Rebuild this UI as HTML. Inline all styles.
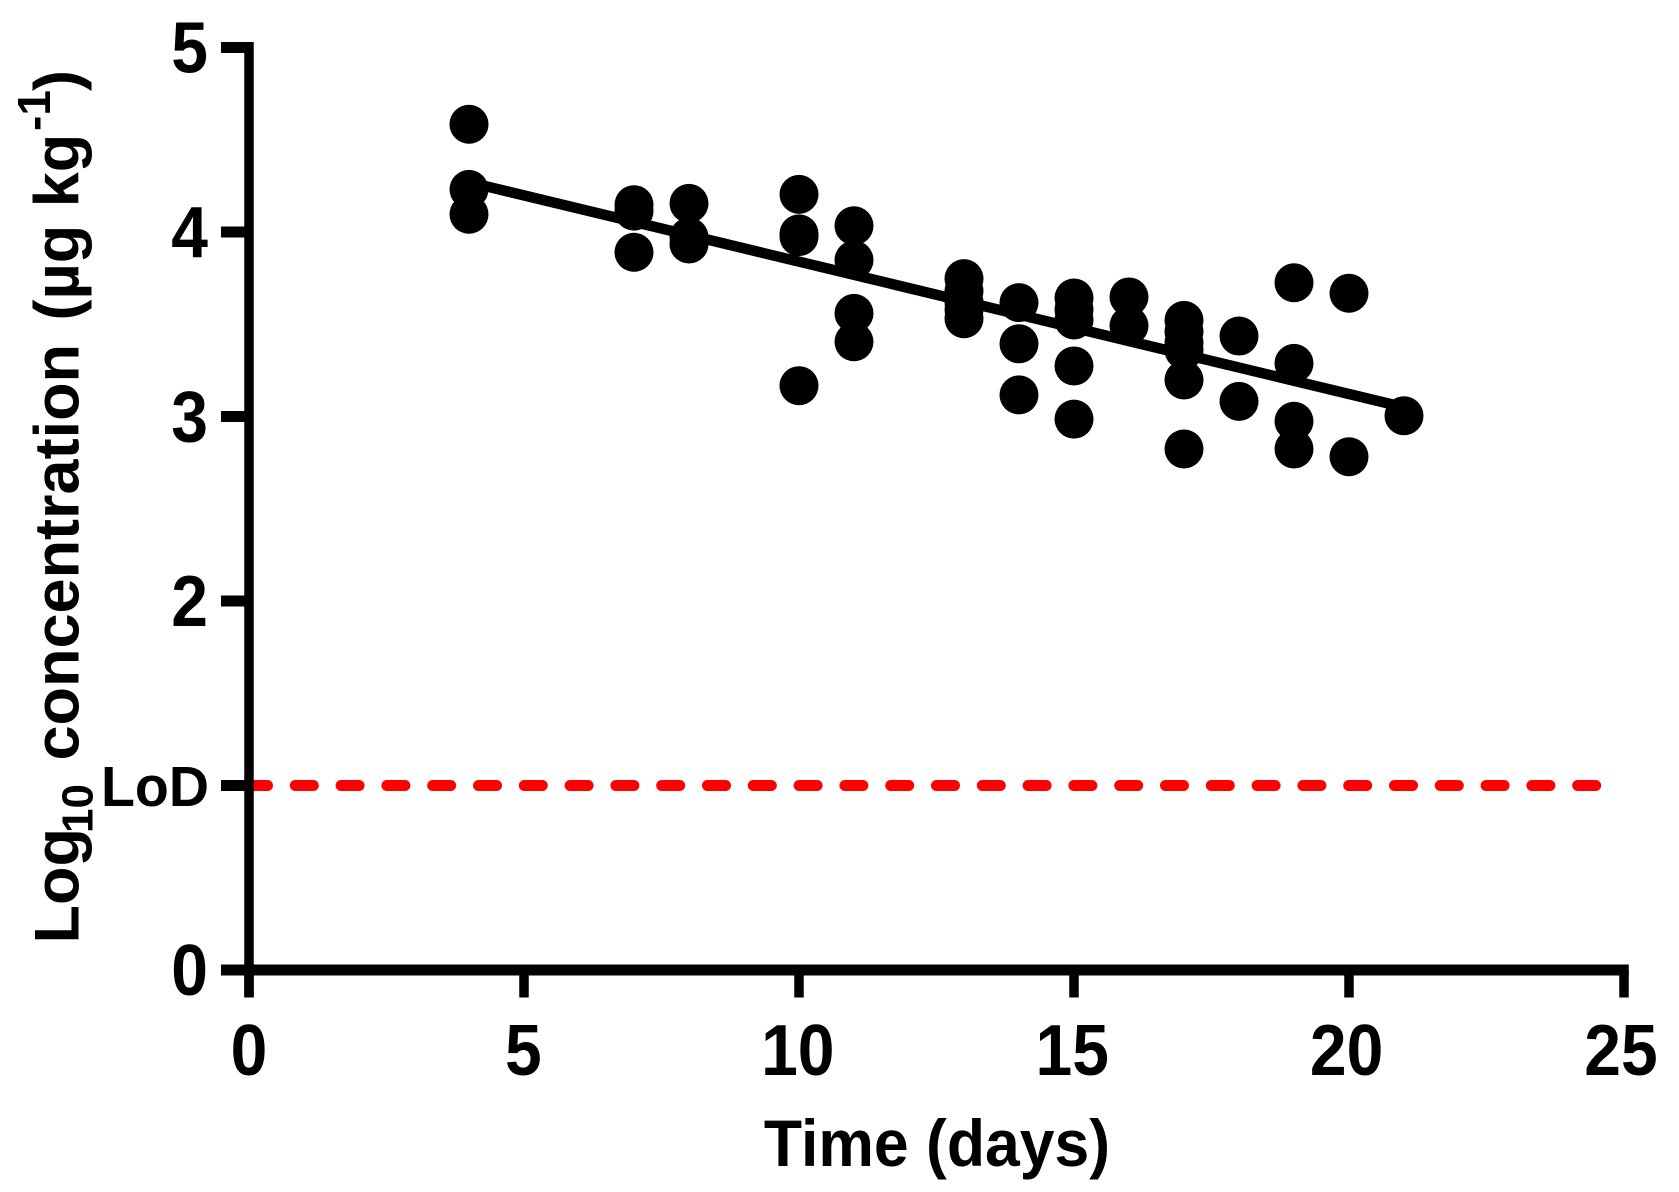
<!DOCTYPE html>
<html lang="en">
<head>
<meta charset="utf-8">
<title>Log10 concentration over time</title>
<style>
  html, body { margin: 0; padding: 0; background: #fff; }
  #chart { display: block; width: 1679px; height: 1192px; }
  text { font-family: "Liberation Sans", Arial, sans-serif; font-weight: 700; fill: #000; }
</style>
</head>
<body>
<svg id="chart" xmlns="http://www.w3.org/2000/svg" width="1679" height="1192" viewBox="0 0 1679 1192">
  <rect x="0" y="0" width="1679" height="1192" fill="#fff"/>
  <g id="lod-layer"></g>
  <g id="axes-layer"></g>
  <g id="points-layer"></g>
  <g id="fit-layer"></g>
  <text transform="translate(937 1166) scale(1 1.05)" font-size="62.5" text-anchor="middle">Time (days)</text>
  <text transform="translate(78.5 943.5) rotate(-90)" font-size="63"><tspan x="0" y="0">Log</tspan><tspan font-size="44" x="110.5" y="14">10</tspan><tspan x="183" y="0">concentration</tspan><tspan x="623" y="0">(µg kg</tspan><tspan font-size="46" x="812.5" y="-28.5">-1</tspan><tspan x="852.5" y="0">)</tspan></text>
</svg>
<script>
const xTicks = [0, 5, 10, 15, 20, 25];
const xTickLabels = ["0", "5", "10", "15", "20", "25"];
const yTicks = [0, 1, 2, 3, 4, 5];
const yTickLabels = ["0", "LoD", "2", "3", "4", "5"];
const days = [
  4, 4, 4,
  7, 7, 7,
  8, 8, 8,
  10, 10, 10, 10,
  11, 11, 11, 11,
  13, 13, 13, 13, 13,
  14, 14, 14,
  15, 15, 15, 15, 15,
  16, 16,
  17, 17, 17, 17, 17, 17,
  18, 18,
  19, 19, 19, 19,
  20, 20,
  21
];
const concentrations = [
  4.584, 4.231, 4.096,
  4.148, 4.113, 3.89,
  4.155, 3.973, 3.935,
  4.204, 3.99, 3.975, 3.167,
  4.034, 3.848, 3.559, 3.405,
  3.747, 3.68, 3.62, 3.58, 3.53,
  3.617, 3.394, 3.117,
  3.642, 3.58, 3.523, 3.274, 2.986,
  3.648, 3.492,
  3.521, 3.46, 3.40, 3.36, 3.198, 2.824,
  3.436, 3.082,
  3.725, 3.288, 2.974, 2.824,
  3.668, 2.782,
  3.004
];
const fitDays = [4, 21];
const fitValues = [4.27, 3.05];
const lodDays = [0, 24.5];
const lodValue = 1;

const SVG_NS = "http://www.w3.org/2000/svg";
const xScale = function (v) { return 249 + 55 * v; };
const yScale = function (v) { return 970 - 184.5 * v; };

function make(tag, parent, attrs, text) {
  const el = document.createElementNS(SVG_NS, tag);
  Object.keys(attrs).forEach(function (k) { el.setAttribute(k, attrs[k]); });
  if (text !== undefined) el.textContent = text;
  parent.appendChild(el);
  return el;
}

const axes = document.getElementById("axes-layer");
const V_W = 9.5;
const H_W = 11;

const yAxisLine = make("line", axes, { x1: xScale(0), x2: xScale(0), y1: yScale(5) - H_W / 2, y2: 997.5, stroke: "#000", "stroke-width": V_W });



const xAxisLine = make("line", axes, { x1: 221, x2: xScale(25) + V_W / 2, y1: yScale(0), y2: yScale(0), stroke: "#000", "stroke-width": H_W });



xTicks.forEach(function (t, i) {
  const tick = make("line", axes, { x1: xScale(t), x2: xScale(t), y1: yScale(0), y2: 997.5, stroke: "#000", "stroke-width": V_W });
  
  
  const label = make("text", axes, { transform: "translate(" + (xScale(t) - t * 0.12) + " 1075) scale(1 1.09)", "font-size": 66, "text-anchor": "middle" }, xTickLabels[i]);
  
  
});

yTicks.forEach(function (t, i) {
  const tick = make("line", axes, { x1: 221, x2: xScale(0), y1: yScale(t), y2: yScale(t), stroke: "#000", "stroke-width": H_W });
  
  
  const isLod = yTickLabels[i] === "LoD";
  const attrs = isLod
    ? { x: 209, y: yScale(t) + 20.5, "font-size": 57, "text-anchor": "end", textLength: 108, lengthAdjust: "spacingAndGlyphs" }
    : { transform: "translate(208 " + (yScale(t) + 25) + ") scale(1 1.09)", "font-size": 66, "text-anchor": "end" };
  const label = make("text", axes, attrs, yTickLabels[i]);
  
  
});

const lodLine = make("line", document.getElementById("lod-layer"), {
  x1: xScale(lodDays[0]) + 0.5, x2: xScale(lodDays[1]),
  y1: yScale(lodValue), y2: yScale(lodValue),
  stroke: "#ff0000", "stroke-width": 11, "stroke-linecap": "round", "stroke-dasharray": "18 27.8"
});



const pointsLayer = document.getElementById("points-layer");
days.forEach(function (d, i) {
  const dot = make("circle", pointsLayer, { cx: xScale(d), cy: yScale(concentrations[i]), r: 19.5, fill: "#000" });
  
  
});

const fitLine = make("line", document.getElementById("fit-layer"), {
  x1: xScale(fitDays[0]), x2: xScale(fitDays[1]),
  y1: yScale(fitValues[0]), y2: yScale(fitValues[1]),
  stroke: "#000", "stroke-width": 10.5
});


</script>
</body>
</html>
